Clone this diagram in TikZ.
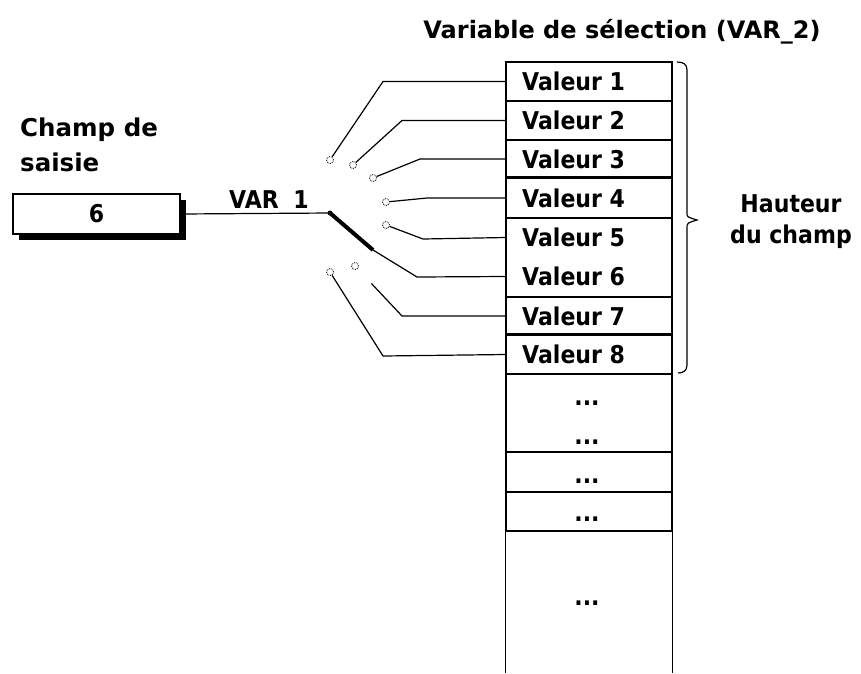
\documentclass[tikz,border=0pt]{standalone}
\usepackage{fontspec}
\setmainfont{DejaVu Sans}
\newfontfamily\narrowfont{DejaVu Sans}[FakeStretch=0.9]
\usetikzlibrary{shadows}
\begin{document}
\begin{tikzpicture}[x=1pt,y=-1pt,
  every node/.style={font=\narrowfont\fontsize{24.5}{30}\selectfont\bfseries, inner sep=0pt},
  cell/.style={draw, line width=1.3pt, minimum width=166pt, anchor=center},
  val/.style={anchor=west},
  dots/.style={anchor=base},
  wire/.style={line width=1.2pt},
  contact/.style={circle, draw, densely dotted, line width=0.8pt, minimum size=7pt},
  lever/.style={line width=4pt},
  inbox/.style={draw, line width=1.5pt, fill=white, minimum width=167pt, minimum height=40pt,
    drop shadow={shadow xshift=6pt, shadow yshift=-6pt, fill=black, opacity=1}}]
\useasboundingbox (0,0) rectangle (861,673);
% title and labels
\node[font=\fontsize{24}{30}\selectfont\bfseries] (title) at (622,32) {Variable de sélection (VAR\_2)};
\node[align=left, anchor=north west, font=\fontsize{24.5}{35}\selectfont\bfseries] (champ) at (20,118) {Champ de\\saisie};
\node[align=center, font=\narrowfont\fontsize{24.5}{31}\selectfont\bfseries] (haut) at (791,222) {Hauteur\\du champ};
% input field
\node[inbox] (box) at (96.5,214) {6};
\node (var1) at (269,200) {VAR\hspace{0.6em}1};
% column cells
\node[cell, minimum height=39pt] (c1) at (589,81.5) {};
\node[cell, minimum height=39pt] (c2) at (589,120.5) {};
\node[cell, minimum height=38pt] (c3) at (589,159) {};
\node[cell, minimum height=40pt] (c4) at (589,198) {};
\node[cell, minimum height=79pt] (c56) at (589,257.5) {};
\node[cell, minimum height=38pt] (c7) at (589,316) {};
\node[cell, minimum height=39pt] (c8) at (589,354.5) {};
\node[cell, minimum height=78pt] (c9) at (589,413) {};
\node[cell, minimum height=40pt] (c10) at (589,472) {};
\node[cell, minimum height=39pt] (c11) at (589,511.5) {};
\node[minimum width=166pt, minimum height=142pt] (c12) at (589,602) {};
\draw[line width=1.3pt] (c12.north west) -- (c12.south west);
\draw[line width=1.3pt] (c12.north east) -- (c12.south east);
\draw[line width=2.6pt] (c4.north west) -- (c4.north east);
\draw[line width=2.6pt] (c8.north west) -- (c8.north east);
% values
\node[val] (v1) at (522,81.5) {Valeur 1};
\node[val] (v2) at (522,120.5) {Valeur 2};
\node[val] (v3) at (522,159) {Valeur 3};
\node[val] (v4) at (522,198) {Valeur 4};
\node[val] (v5) at (522,237.5) {Valeur 5};
\node[val] (v6) at (522,276.5) {Valeur 6};
\node[val] (v7) at (522,316) {Valeur 7};
\node[val] (v8) at (522,354.5) {Valeur 8};
\node[dots] (d1) at (587,405) {...};
\node[dots] (d2) at (587,444) {...};
\node[dots] (d3) at (587,483) {...};
\node[dots] (d4) at (587,521) {...};
\node[dots] (d5) at (587,605) {...};
% brace
\draw[line width=1.2pt] (677,62) .. controls (683,62) and (687,64) .. (687,70) -- (687,213)
  .. controls (687,217) .. (697,220) .. controls (687,223) .. (687,228) -- (687,365)
  .. controls (687,371) and (683,373) .. (678,373);
% switch
\coordinate (pv) at (330,213);
\coordinate (le) at (373,250);
\node[contact] (k1) at (330,160) {};
\node[contact] (k2) at (353,165) {};
\node[contact] (k3) at (373,178) {};
\node[contact] (k4) at (386,202) {};
\node[contact] (k5) at (386,225) {};
\node[contact] (k7) at (355,266) {};
\node[contact] (k8) at (330,272) {};
\draw[wire] (box.east) -- (pv);
\fill (pv) circle (2.5pt);
\draw[lever] (pv) -- (le);
\draw[wire] (k1) -- (383,81.5) -- (c1.west);
\draw[wire] (k2) -- (402,120.5) -- (c2.west);
\draw[wire] (k3) -- (420,159) -- (c3.west);
\draw[wire] (k4) -- (427,198) -- (c4.west);
\draw[wire] (k5) -- (423,239) -- (c56.west |- v5.west);
\draw[wire] (le) -- (417,277) -- (c56.west |- v6.west);
\draw[wire, shorten <=20pt] (k7) -- (402,316) -- (c7.west);
\draw[wire] (k8) -- (383,356) -- (c8.west);
\end{tikzpicture}
\end{document}
